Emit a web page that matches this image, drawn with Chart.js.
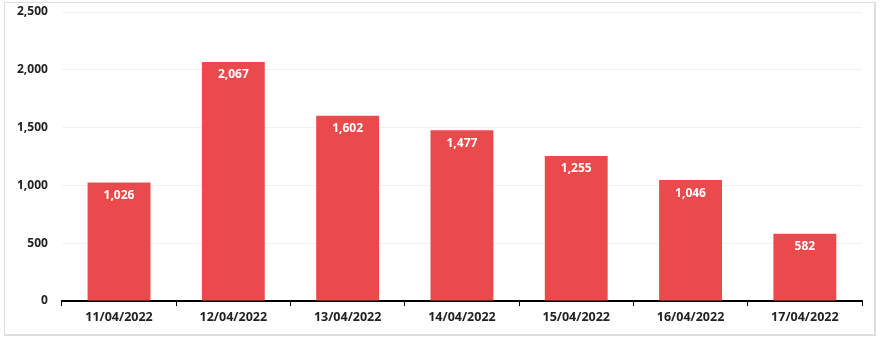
<!DOCTYPE html>
<html>
<head>
<meta charset="utf-8">
<script src="https://cdn.jsdelivr.net/npm/chart.js@4/dist/chart.umd.min.js"></script>
<style>
    body { margin: 0; background: #fff; }
    #wrap {
        position: absolute;
        left: 4px;
        top: 2px;
        width: 869px;
        height: 331px;
        border: 1px solid #dedede;
        border-right-width: 2px;
        border-bottom-width: 2px;
    }
</style>
</head>
<body>
<div id="wrap"><canvas id="chart"></canvas></div>
<script>
// chart data
const dates = ['11/04/2022', '12/04/2022', '13/04/2022', '14/04/2022', '15/04/2022', '16/04/2022', '17/04/2022'];
const counts = [1026, 2067, 1602, 1477, 1255, 1046, 582];
const yTicks = [0, 500, 1000, 1500, 2000, 2500];

const barColor = '#eb4a4c';
const fontFamily = "'Open Sans', 'DejaVu Sans', sans-serif";

// white value labels just inside the top of each bar
const barLabels = {
    id: 'barLabels',
    afterDatasetsDraw(chart) {
        const ctx = chart.ctx;
        const meta = chart.getDatasetMeta(0);
        ctx.save();
        ctx.fillStyle = '#ffffff';
        ctx.font = 'bold 12px ' + fontFamily;
        ctx.textAlign = 'center';
        ctx.textBaseline = 'middle';
        meta.data.forEach((bar, i) => {
            ctx.fillText(counts[i].toLocaleString('en-US'), bar.x, bar.y + 13);
        });
        ctx.restore();
    }
};

new Chart(document.getElementById('chart'), {
    type: 'bar',
    data: {
        labels: dates,
        datasets: [{
            data: counts,
            backgroundColor: barColor,
            borderWidth: 0,
            barPercentage: 0.55,
            categoryPercentage: 1
        }]
    },
    options: {
        responsive: true,
        maintainAspectRatio: false,
        animation: false,
        layout: {
            padding: { left: -2, right: 12, top: 0, bottom: 5 }
        },
        plugins: {
            legend: { display: false },
            tooltip: { enabled: false }
        },
        scales: {
            x: {
                grid: {
                    drawOnChartArea: false,
                    drawTicks: true,
                    tickLength: 5,
                    color: '#000000',
                    lineWidth: 1
                },
                border: { display: true, color: '#000000', width: 2 },
                ticks: {
                    color: '#222222',
                    padding: 4,
                    font: { family: fontFamily, size: 12.5, weight: 'bold' }
                }
            },
            y: {
                min: 0,
                max: 2500,
                afterBuildTicks(axis) {
                    axis.ticks = yTicks.map(v => ({ value: v }));
                },
                // the tick padding would otherwise push the top of the plot down
                afterFit(axis) {
                    axis.paddingTop = 9;
                },
                grid: {
                    color: '#f0f0f0',
                    drawTicks: false
                },
                border: { display: false },
                ticks: {
                    color: '#222222',
                    padding: 14,
                    font: { family: fontFamily, size: 12, weight: 'bold' },
                    callback: v => v.toLocaleString('en-US')
                }
            }
        }
    },
    plugins: [barLabels]
});
</script>
</body>
</html>
